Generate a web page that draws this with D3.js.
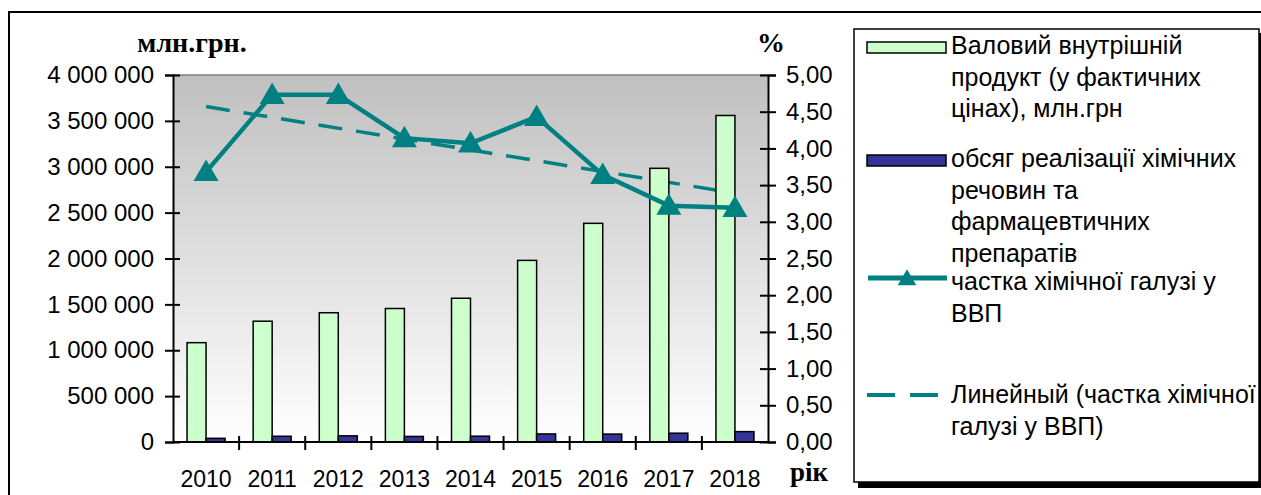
<!DOCTYPE html>
<html>
<head>
<meta charset="utf-8">
<script src="https://cdn.jsdelivr.net/npm/d3@7"></script>
<style>
  body { margin: 0; background: #fff; }
  svg { display: block; }
  text { font-family: Arial, "Liberation Sans", sans-serif; fill: #000; }
  .ttl { font-family: "Times New Roman", "Liberation Serif", serif; font-weight: bold; }
</style>
</head>
<body>
<svg id="chart" width="1261" height="495"></svg>
<script>
// data
var years = ['2010', '2011', '2012', '2013', '2014', '2015', '2016', '2017', '2018'];
var gdp = [1082569, 1316600, 1408889, 1454931, 1566728, 1979458, 2383182, 2982920, 3558706];
var chem = [40000, 62500, 67000, 60500, 63500, 88000, 86500, 96000, 113000];
var share = [3.68, 4.73, 4.73, 4.14, 4.07, 4.43, 3.64, 3.22, 3.19];
var trendEnds = [4.57, 3.39];   // linear trend, 2010 and 2018
var leftTicks = [0, 500000, 1000000, 1500000, 2000000, 2500000, 3000000, 3500000, 4000000];
var rightTicks = [0, 0.5, 1, 1.5, 2, 2.5, 3, 3.5, 4, 4.5, 5];
var legendLabels = [
    ['Валовий внутрішній', 'продукт (у фактичних', 'цінах), млн.грн'],
    ['обсяг реалізації хімічних', 'речовин та', 'фармацевтичних', 'препаратів'],
    ['частка хімічної галузі у', 'ВВП'],
    ['Линейный (частка хімічної', 'галузі у ВВП)']
];

(function () {
    var TEAL = '#008080',
        GREEN = '#ccffcc',
        BLUE = '#333399';

    var svg = d3.select('#chart'),
        pL = 173, pR = 768, pT = 75, pB = 442;

    var x = d3.scaleBand().domain(years).range([pL, pR]),
        yL = d3.scaleLinear().domain([0, 4000000]).range([pB, pT]),
        yR = d3.scaleLinear().domain([0, 5]).range([pB, pT]);

    var fmtL = function (d) { return d3.format(',')(d).replace(/,/g, ' '); },
        fmtR = function (d) { return d3.format('.2f')(d).replace('.', ','); },
        cx = function (i) { return x(years[i]) + x.bandwidth() / 2; };

    // outer frame
    svg.append('rect').attr('x', 9).attr('y', 12).attr('width', 1270).attr('height', 500)
        .attr('fill', '#fff').attr('stroke', '#000').attr('stroke-width', 2);

    // plot background
    var grad = svg.append('defs').append('linearGradient').attr('id', 'bg')
        .attr('x1', 0).attr('y1', 0).attr('x2', 0).attr('y2', 1);
    grad.append('stop').attr('offset', 0).attr('stop-color', '#c0c0c0');
    grad.append('stop').attr('offset', 1).attr('stop-color', '#ffffff');

    svg.append('rect').attr('x', pL).attr('y', pT)
        .attr('width', pR - pL).attr('height', pB - pT)
        .attr('fill', 'url(#bg)');
    svg.append('line').attr('x1', pL).attr('x2', pR).attr('y1', pT).attr('y2', pT)
        .attr('stroke', '#808080').attr('stroke-width', 1.5);

    // trend line (behind the bars)
    svg.append('line')
        .attr('x1', cx(0)).attr('x2', cx(years.length - 1))
        .attr('y1', yR(trendEnds[0])).attr('y2', yR(trendEnds[1]))
        .attr('stroke', TEAL).attr('stroke-width', 3.5).attr('stroke-dasharray', '24,14');

    // bars
    var barW = 19;
    svg.selectAll('rect.gdp').data(gdp).enter().append('rect')
        .attr('class', 'gdp')
        .attr('x', function (d, i) { return cx(i) - barW; })
        .attr('y', function (d) { return yL(d); })
        .attr('width', barW)
        .attr('height', function (d) { return pB - yL(d); })
        .attr('fill', GREEN).attr('stroke', '#000').attr('stroke-width', 1.5);
    svg.selectAll('rect.chem').data(chem).enter().append('rect')
        .attr('class', 'chem')
        .attr('x', function (d, i) { return cx(i); })
        .attr('y', function (d) { return yL(d); })
        .attr('width', barW)
        .attr('height', function (d) { return pB - yL(d); })
        .attr('fill', BLUE).attr('stroke', '#000').attr('stroke-width', 1.5);

    // share line
    var line = d3.line()
        .x(function (d, i) { return cx(i); })
        .y(function (d) { return yR(d); });
    svg.append('path').datum(share).attr('d', line)
        .attr('fill', 'none').attr('stroke', TEAL).attr('stroke-width', 4.5)
        .attr('stroke-linejoin', 'round');

    var tri = d3.symbol().type(d3.symbolTriangle).size(270);
    svg.selectAll('path.mk').data(share).enter().append('path')
        .attr('class', 'mk')
        .attr('d', tri)
        .attr('transform', function (d, i) { return 'translate(' + cx(i) + ',' + (yR(d) + 2) + ')'; })
        .attr('fill', TEAL);

    // axes
    var axL = svg.append('g').attr('transform', 'translate(' + pL + ',0)')
        .call(d3.axisLeft(yL).tickValues(leftTicks).tickFormat(fmtL).tickSize(8).tickPadding(11));
    var axR = svg.append('g').attr('transform', 'translate(' + pR + ',0)')
        .call(d3.axisRight(yR).tickValues(rightTicks).tickFormat(fmtR).tickSize(8).tickPadding(10));
    [axL, axR].forEach(function (ax) {
        ax.select('.domain').attr('stroke', '#000').attr('stroke-width', 2);
        ax.selectAll('.tick line').attr('stroke', '#000').attr('stroke-width', 2);
        ax.selectAll('text').attr('font-size', 24).attr('font-family', 'Arial, "Liberation Sans", sans-serif');
    });
    axL.selectAll('.tick line').attr('x1', 7);
    axR.selectAll('.tick line').attr('x1', -8);

    var axB = svg.append('g').attr('transform', 'translate(0,' + pB + ')')
        .call(d3.axisBottom(x).tickSize(0).tickPadding(29));
    axB.select('.domain').remove();
    axB.selectAll('text').attr('font-size', 23).attr('font-family', 'Arial, "Liberation Sans", sans-serif');
    svg.append('line').attr('x1', pL).attr('x2', pR).attr('y1', pB).attr('y2', pB)
        .attr('stroke', '#000').attr('stroke-width', 2);
    svg.selectAll('line.xt').data(years.slice(1)).enter().append('line')
        .attr('class', 'xt')
        .attr('x1', function (d) { return x(d); }).attr('x2', function (d) { return x(d); })
        .attr('y1', pB - 6).attr('y2', pB + 8)
        .attr('stroke', '#000').attr('stroke-width', 2);

    // axis titles
    svg.append('text').attr('class', 'ttl').attr('x', 192).attr('y', 52)
        .attr('text-anchor', 'middle').attr('font-size', 28).text('млн.грн.');
    svg.append('text').attr('class', 'ttl').attr('x', 771).attr('y', 52)
        .attr('text-anchor', 'middle').attr('font-size', 28).text('%');
    svg.append('text').attr('class', 'ttl').attr('x', 790).attr('y', 481)
        .attr('font-size', 27).text('рік');

    // legend
    var lg = svg.append('g');
    lg.append('rect').attr('x', 858).attr('y', 33).attr('width', 410).attr('height', 455).attr('fill', '#000');
    lg.append('rect').attr('x', 854).attr('y', 29).attr('width', 405).attr('height', 453)
        .attr('fill', '#fff').attr('stroke', '#000').attr('stroke-width', 1.5);

    lg.append('rect').attr('x', 867).attr('y', 42).attr('width', 79).attr('height', 11)
        .attr('fill', GREEN).attr('stroke', '#000').attr('stroke-width', 1.5);
    lg.append('rect').attr('x', 867).attr('y', 155).attr('width', 79).attr('height', 11)
        .attr('fill', BLUE).attr('stroke', '#000').attr('stroke-width', 1.5);
    lg.append('line').attr('x1', 868).attr('x2', 947).attr('y1', 278).attr('y2', 278)
        .attr('stroke', TEAL).attr('stroke-width', 5);
    lg.append('path').attr('d', d3.symbol().type(d3.symbolTriangle).size(150))
        .attr('transform', 'translate(907,280)').attr('fill', TEAL);
    lg.append('line').attr('x1', 867).attr('x2', 939).attr('y1', 395).attr('y2', 395)
        .attr('stroke', TEAL).attr('stroke-width', 4).attr('stroke-dasharray', '28,15');

    var firstBase = [54, 167, 290, 403];
    legendLabels.forEach(function (lines, k) {
        var t = lg.append('text').attr('x', 951).attr('y', firstBase[k]).attr('font-size', 25);
        lines.forEach(function (s, j) {
            t.append('tspan').attr('x', 951).attr('dy', j === 0 ? 0 : 31.5).text(s);
        });
    });
}());
</script>
</body>
</html>
